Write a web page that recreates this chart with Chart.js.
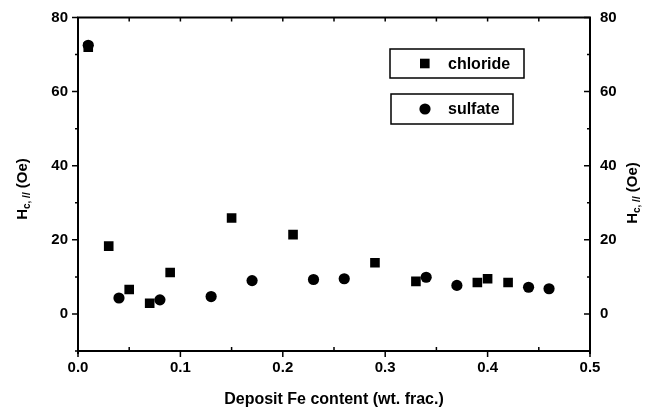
<!DOCTYPE html>
<html>
<head>
<meta charset="utf-8">
<script src="https://cdn.jsdelivr.net/npm/chart.js@4/dist/chart.umd.min.js"></script>
<style>
html,body{margin:0;padding:0;background:#fff;}
#wrap{width:654px;height:409px;position:relative;}
</style>
</head>
<body>
<div id="wrap"><canvas id="c" width="654" height="409"></canvas></div>
<script>
// ---- data ----
const chlorideX = [0.01, 0.03, 0.05, 0.07, 0.09, 0.15, 0.21, 0.29, 0.33, 0.39, 0.40, 0.42];
const chlorideY = [72.0, 18.3, 6.6, 2.9, 11.2, 25.9, 21.4, 13.8, 8.8, 8.5, 9.5, 8.5];
const sulfateX = [0.01, 0.04, 0.08, 0.13, 0.17, 0.23, 0.26, 0.34, 0.37, 0.44, 0.46];
const sulfateY = [72.5, 4.3, 3.8, 4.7, 9.0, 9.3, 9.5, 9.9, 7.7, 7.2, 6.8];
const seriesNames = ["chloride", "sulfate"];
const xTicks = [0, 0.1, 0.2, 0.3, 0.4, 0.5];
const xMinorTicks = [0.05, 0.15, 0.25, 0.35, 0.45];
const yTicks = [0, 20, 40, 60, 80];
const yMinorTicks = [-10, 10, 30, 50, 70];
const xTitle = "Deposit Fe content (wt. frac.)";
const yTitleMain = "H";
const yTitleSub = "c, //";
const yTitleUnit = " (Oe)";

const FONT = "'Liberation Sans', Arial, sans-serif";

const toPts = (xs, ys) => xs.map((x, i) => ({x: x, y: ys[i]}));

const decor = {
  id: 'decor',
  afterDraw(chart) {
    const ctx = chart.ctx;
    const xs = chart.scales.x, yl = chart.scales.y, yr = chart.scales.y2;
    const L = chart.chartArea.left, R = chart.chartArea.right, T = chart.chartArea.top, B = chart.chartArea.bottom;
    ctx.save();
    ctx.strokeStyle = '#000';
    // frame
    ctx.lineWidth = 2;
    ctx.beginPath();
    ctx.moveTo(L, T); ctx.lineTo(R, T);
    ctx.moveTo(L, B); ctx.lineTo(R, B);
    ctx.moveTo(L, T - 1); ctx.lineTo(L, B + 3);
    ctx.moveTo(R, T - 1); ctx.lineTo(R, B + 3);
    ctx.stroke();
    ctx.lineWidth = 1.5;
    ctx.beginPath();
    // left axis: outward ticks
    yTicks.forEach(v => { const p = yl.getPixelForValue(v); ctx.moveTo(L - 6, p); ctx.lineTo(L, p); });
    yMinorTicks.forEach(v => { const p = yl.getPixelForValue(v); ctx.moveTo(L - 3, p); ctx.lineTo(L, p); });
    // right axis: inward ticks
    yTicks.forEach(v => { const p = yr.getPixelForValue(v); ctx.moveTo(R - 6, p); ctx.lineTo(R, p); });
    yMinorTicks.forEach(v => { const p = yr.getPixelForValue(v); ctx.moveTo(R - 3, p); ctx.lineTo(R, p); });
    // bottom axis: major outward, minor inward
    xTicks.forEach(v => { const p = xs.getPixelForValue(v); ctx.moveTo(p, B); ctx.lineTo(p, B + 6); });
    xMinorTicks.forEach(v => { const p = xs.getPixelForValue(v); ctx.moveTo(p, B); ctx.lineTo(p, B - 4); });
    // top axis: inward ticks
    xTicks.concat(xMinorTicks).forEach(v => { const p = xs.getPixelForValue(v); ctx.moveTo(p, T); ctx.lineTo(p, T + 4); });
    ctx.stroke();

    // legend boxes
    const boxes = [
      {x: 390, y: 49, w: 134, h: 29, style: 'rect', name: seriesNames[0]},
      {x: 391, y: 94, w: 122, h: 30, style: 'circle', name: seriesNames[1]}
    ];
    ctx.lineWidth = 1.5;
    boxes.forEach(b => {
      ctx.fillStyle = '#fff';
      ctx.fillRect(b.x, b.y, b.w, b.h);
      ctx.strokeRect(b.x, b.y, b.w, b.h);
      const cy = b.y + b.h / 2;
      ctx.fillStyle = '#000';
      if (b.style === 'rect') {
        ctx.fillRect(420, cy - 4.8, 9.6, 9.6);
      } else {
        ctx.beginPath(); ctx.arc(425, cy, 5.6, 0, Math.PI * 2); ctx.fill();
      }
      ctx.font = 'bold 16px ' + FONT;
      ctx.textBaseline = 'middle';
      ctx.textAlign = 'left';
      ctx.fillText(b.name, 448, cy + 1);
    });

    // y titles (rotated, with subscript)
    function yTitle(cx, cy) {
      ctx.save();
      ctx.translate(cx, cy);
      ctx.rotate(-Math.PI / 2);
      ctx.fillStyle = '#000';
      ctx.textBaseline = 'alphabetic';
      ctx.textAlign = 'left';
      const fMain = 'bold 15px ' + FONT, fSub = 'bold 10px ' + FONT;
      ctx.font = fMain; const w1 = ctx.measureText(yTitleMain).width;
      ctx.font = fSub; const w2 = ctx.measureText(yTitleSub).width;
      ctx.font = fMain; const w3 = ctx.measureText(yTitleUnit).width;
      let x = -(w1 + w2 + w3) / 2;
      const base = 5;
      ctx.font = fMain; ctx.fillText(yTitleMain, x, base); x += w1;
      ctx.font = fSub; ctx.fillText(yTitleSub, x, base + 3); x += w2;
      ctx.font = fMain; ctx.fillText(yTitleUnit, x, base);
      ctx.restore();
    }
    yTitle(22, 189);
    yTitle(632, 193);
    ctx.restore();
  }
};

new Chart(document.getElementById('c'), {
  type: 'scatter',
  data: {
    datasets: [
      {label: seriesNames[0], data: toPts(chlorideX, chlorideY), pointStyle: 'rect', pointRadius: 6.8, pointHoverRadius: 6.8,
       backgroundColor: '#000', borderColor: '#000', borderWidth: 0, yAxisID: 'y'},
      {label: seriesNames[1], data: toPts(sulfateX, sulfateY), pointStyle: 'circle', pointRadius: 5.6, pointHoverRadius: 5.6,
       backgroundColor: '#000', borderColor: '#000', borderWidth: 0, yAxisID: 'y'}
    ]
  },
  options: {
    responsive: false,
    animation: false,
    events: [],
    layout: {padding: {top: 17.5, left: 0, right: 0, bottom: 0}},
    plugins: {legend: {display: false}, tooltip: {enabled: false}},
    scales: {
      x: {
        type: 'linear', min: 0, max: 0.5,
        grid: {display: false}, border: {display: false},
        afterBuildTicks: s => { s.ticks = xTicks.map(v => ({value: v})); },
        afterFit: s => { s.height = 58; },
        ticks: {color: '#000', font: {family: FONT, size: 15, weight: 'bold'}, padding: 0,
                maxRotation: 0, callback: v => Number(v).toFixed(1)},
        title: {display: true, text: xTitle, color: '#000', font: {family: FONT, size: 16, weight: 'bold'}, padding: {top: 6, bottom: 0}}
      },
      y: {
        type: 'linear', position: 'left', min: -10, max: 80,
        grid: {display: false}, border: {display: false},
        afterBuildTicks: s => { s.ticks = yTicks.map(v => ({value: v})); },
        afterFit: s => { s.width = 78; },
        ticks: {color: '#000', font: {family: FONT, size: 15, weight: 'bold'}, padding: 2}
      },
      y2: {
        type: 'linear', position: 'right', min: -10, max: 80, display: true,
        grid: {display: false}, border: {display: false},
        afterBuildTicks: s => { s.ticks = yTicks.map(v => ({value: v})); },
        afterFit: s => { s.width = 64; },
        ticks: {color: '#000', font: {family: FONT, size: 15, weight: 'bold'}, padding: 2}
      }
    }
  },
  plugins: [decor]
});
</script>
</body>
</html>
